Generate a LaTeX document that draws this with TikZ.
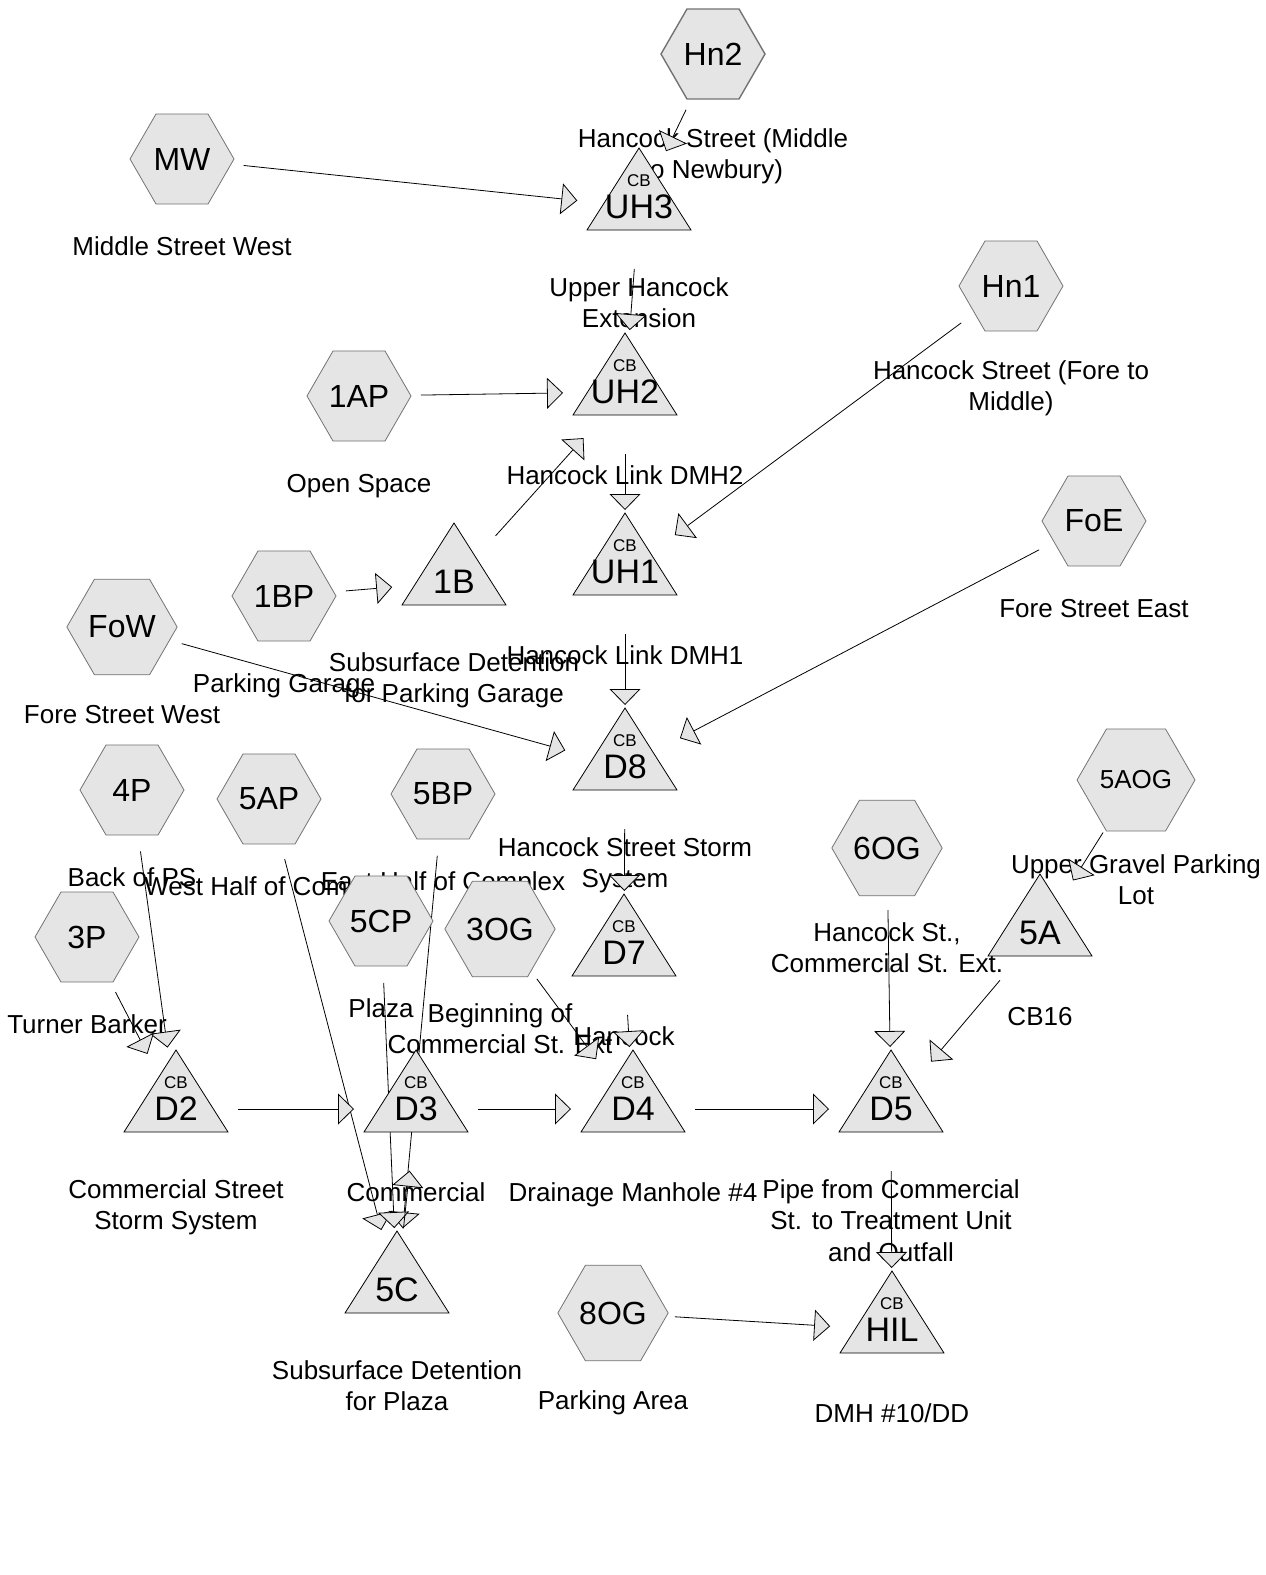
\documentclass[tikz,border=0pt]{standalone}
\usepackage{fontspec}
\setmainfont{Liberation Sans}
\usetikzlibrary{arrows.meta,shapes.geometric}
\pgfdeclarelayer{back}
\pgfsetlayers{back,main}
\definecolor{shade}{gray}{0.9}
\definecolor{rim}{gray}{0.45}

\begin{document}
\begin{tikzpicture}[x=0.5pt,y=-0.5pt,line width=0.7pt,
  hexa/.style={regular polygon,regular polygon sides=6,minimum size=52pt,inner sep=0pt,
    draw=rim,fill=shade,font=\fontsize{16}{18}\selectfont},
  tri/.style={draw=black,fill=shade},
  big/.style={inner sep=0pt,font=\fontsize{17}{19}\selectfont},
  cb/.style={inner sep=0pt,font=\fontsize{8.5}{9}\selectfont},
  note/.style={anchor=north,align=center,inner sep=0pt,
    font=\fontsize{13}{15.75}\selectfont,execute at begin node=\strut},
  flow/.style={-{Triangle[length=8pt,width=15.5pt,fill=shade]},
    shorten <=31pt,shorten >=31pt}]
\useasboundingbox (0,0) rectangle (1265,1575);
% 子汇水区（六边形），#1 = 附加样式, #2 名称, #3 x, #4 y, #5 编号, #6 说明
\newcommand{\catchment}[6][]{
  \node[hexa,#1] (#2) at (#3,#4) {#5};
  \begin{pgfonlayer}{back}
  \node[note] (#2-n) at (#3,#4+74) {#6};
  \end{pgfonlayer}
}
% 集水井 / 调蓄池（三角形），#1 = 小字, #2 名称, #3 x, #4 y（形心）, #5 编号, #6 说明
\newcommand{\basin}[6][CB]{
  \filldraw[tri] (#3-52,#4+27) -- (#3,#4-55) -- (#3+52,#4+27) -- cycle;
  \node[cb] (#2-cb) at (#3,#4-22) {#1};
  \node[big] (#2) at (#3,#4+4) {#5};
  \begin{pgfonlayer}{back}
  \node[note] (#2-n) at (#3,#4+74) {#6};
  \end{pgfonlayer}
}
% ---------- 上游 ----------
\catchment{Hn2}{713}{54}{Hn2}{Hancock Street (Middle\\to Newbury)}
\catchment{MW}{182}{159}{MW}{Middle Street West}
\catchment{Hn1}{1011}{286}{Hn1}{Hancock Street (Fore to\\Middle)}
\catchment{1AP}{359}{396}{1AP}{Open Space}
\catchment{FoE}{1094}{521}{FoE}{Fore Street East}
\catchment{1BP}{284}{596}{1BP}{Parking Garage}
\catchment{FoW}{122}{627}{FoW}{Fore Street West}
\basin{UH3}{639}{203}{UH3}{Upper Hancock\\Extension}
\basin{UH2}{625}{388}{UH2}{Hancock Link DMH2}
\basin{UH1}{625}{568}{UH1}{Hancock Link DMH1}
\basin[]{1B}{454}{578}{1B}{Subsurface Detention\\for Parking Garage}
\basin{D8}{625}{763}{D8}{Hancock Street Storm\\System}
% ---------- 下游 ----------
\catchment{4P}{132}{790}{4P}{Back of PS}
\node[hexa] (5AP) at (269,799) {5AP};
\begin{pgfonlayer}{back}
\node[note,anchor=north west] (5AP-n) at (144,873) {West Half of Com};
\end{pgfonlayer}
\catchment{5BP}{443}{794}{5BP}{East Half of Complex}
\catchment[font=\fontsize{13}{15}\selectfont]{5AOG}{1136}{780}{5AOG}{Upper Gravel Parking\\Lot}
\catchment{6OG}{887}{848}{6OG}{Hancock St.,\\Commercial St. Ext.}
\catchment{3P}{87}{937}{3P}{Turner Barker}
\catchment{5CP}{381}{921}{5CP}{Plaza}
\catchment{3OG}{500}{929}{3OG}{Beginning of\\Commercial St. Ext}
\catchment{8OG}{613}{1313}{8OG}{Parking Area}
\basin{D7}{624}{949}{D7}{Hancock}
\basin[]{5A}{1040}{929}{5A}{CB16}
\basin{D2}{176}{1105}{D2}{Commercial Street\\Storm System}
\basin{D3}{416}{1105}{D3}{Commercial}
\basin{D4}{633}{1105}{D4}{Drainage Manhole \#4}
\basin{D5}{891}{1105}{D5}{Pipe from Commercial\\St. to Treatment Unit\\and Outfall}
\basin[]{5C}{397}{1286}{5C}{Subsurface Detention\\for Plaza}
\basin{HIL}{892}{1326}{HIL}{DMH \#10/DD}
% 水流方向
\begin{pgfonlayer}{back}
\foreach \a/\b in {Hn2/UH3,MW/UH3,UH3/UH2,1AP/UH2,1B/UH2,UH2/UH1,Hn1/UH1,1BP/1B,
  UH1/D8,FoW/D8,FoE/D8,D8/D7,4P/D2,3P/D2,5AP/5C,5BP/5C,5CP/5C,5C/D3,3OG/D4,D7/D4,
  D2/D3,D3/D4,D4/D5,6OG/D5,5AOG/5A,5A/D5,D5/HIL,8OG/HIL}
  \draw[flow] (\a.center) -- (\b.center);
\end{pgfonlayer}
\end{tikzpicture}
\end{document}
